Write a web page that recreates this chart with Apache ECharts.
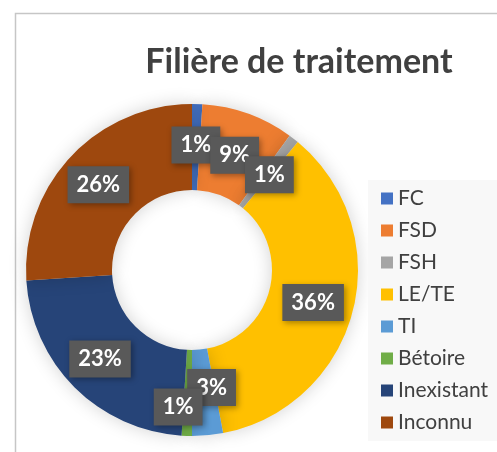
<!DOCTYPE html>
<html>
<head>
<meta charset="utf-8">
<script src="https://cdn.jsdelivr.net/npm/echarts@6/dist/echarts.min.js"></script>
<style>
  html, body { margin: 0; padding: 0; background: #fff; }
  #chart { width: 497px; height: 452px; }
</style>
</head>
<body>
<div id="chart"></div>
<script>
const categories = ['FC', 'FSD', 'FSH', 'LE/TE', 'TI', 'Bétoire', 'Inexistant', 'Inconnu'];
const values = [1, 9, 1, 36, 3, 1, 23, 26];
const colors = ['#4472C4', '#ED7D31', '#A5A5A5', '#FFC000', '#5B9BD5', '#70AD47', '#264478', '#9E480E'];
// small nudges for the crowded labels
const labelOffsets = [[0, -2], [1, 1], [2, 2], [2, 2], [8, -5], [-10, 14], [-5, 2], [-4, -1]];

const center = [192, 270];
const innerR = 80;
const outerR = 166;

const total = values.reduce((a, b) => a + b, 0);
let acc = 0;
const labelPoints = values.map((v, i) => {
  const mid = acc + v / 2;
  acc += v;
  return {
    value: [(innerR + outerR) / 2, mid],
    pct: Math.round(v / total * 100)
  };
});

const chart = echarts.init(document.getElementById('chart'));

chart.setOption({
  animation: false,
  title: {
    text: 'Filière de traitement',
    left: 294,
    top: 40,
    textAlign: 'center',
    textStyle: { fontFamily: 'Lato', fontWeight: 'bold', fontSize: 34, color: '#404040' }
  },
  graphic: [{
    type: 'rect',
    shape: { x: 15.5, y: 13.5, width: 600, height: 600 },
    style: { fill: 'none', stroke: '#c6c6c6', lineWidth: 1.5 },
    silent: true,
    z: -10
  }],
  legend: {
    orient: 'vertical',
    left: 368,
    top: 180,
    padding: [8, 40, 8, 13],
    backgroundColor: '#f8f8f8',
    itemWidth: 12,
    itemHeight: 12,
    itemGap: 11,
    icon: 'rect',
    textStyle: { fontFamily: 'Lato', fontSize: 21, color: '#404040', lineHeight: 20 },
    data: categories
  },
  polar: { center: center, radius: [0, outerR] },
  angleAxis: { type: 'value', min: 0, max: total, startAngle: 90, clockwise: true, show: false },
  radiusAxis: { type: 'value', min: 0, max: outerR, show: false },
  series: [{
    type: 'pie',
    center: center,
    radius: [innerR, outerR],
    startAngle: 90,
    clockwise: true,
    itemStyle: {
      shadowBlur: 18,
      shadowColor: 'rgba(0,0,0,0.18)'
    },
    label: { show: false },
    labelLine: { show: false },
    data: categories.map((c, i) => ({
      name: c,
      value: values[i],
      itemStyle: { color: colors[i] }
    }))
  }, {
    type: 'scatter',
    coordinateSystem: 'polar',
    symbolSize: 1,
    itemStyle: { color: 'rgba(0,0,0,0)', opacity: 1 },
    silent: true,
    z: 5,
    label: {
      show: true,
      position: 'inside',
      formatter: p => p.data.pct + '%',
      fontFamily: 'Lato',
      fontWeight: 'bold',
      fontSize: 22,
      color: '#fff',
      backgroundColor: '#595959',
      padding: [8, 9, 7, 9],
      shadowBlur: 6,
      shadowOffsetX: 2,
      shadowOffsetY: 2,
      shadowColor: 'rgba(0,0,0,0.35)'
    },
    labelLayout: p => ({
      dx: labelOffsets[p.dataIndex][0],
      dy: labelOffsets[p.dataIndex][1],
      hideOverlap: false
    }),
    data: labelPoints
  }]
});
</script>
</body>
</html>
